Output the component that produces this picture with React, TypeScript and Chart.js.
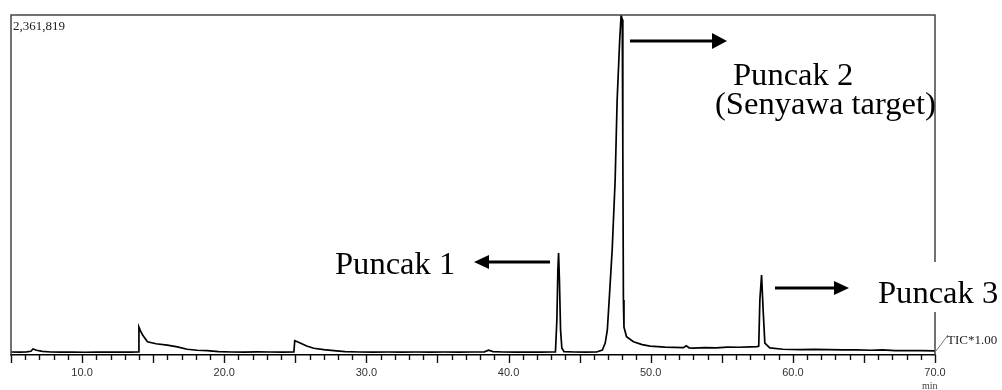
import React, { useEffect, useRef } from "react";
import { Chart, registerables } from "chart.js";

Chart.register(...registerables);

// Retention time (min) and TIC intensity
const retentionTime = [
  5.0, 5.6, 6.1, 6.4, 6.55, 6.8, 7.2, 7.8, 8.5, 9.3, 10.2, 11.0, 11.8, 12.6, 13.4, 13.95,
  14.0, 14.1, 14.26, 14.6, 15.2, 16.0, 16.7, 17.4, 18.1, 18.8, 19.6, 20.5, 21.4, 22.3, 23.2,
  24.1, 24.9, 24.96, 25.1, 25.38, 25.8, 26.3, 27.0, 27.7, 28.5, 29.5, 30.5, 31.5, 32.5, 33.5,
  34.5, 35.5, 36.5, 37.5, 38.3, 38.6, 38.9, 39.6, 40.5, 41.4, 42.3, 43.0, 43.3, 43.4, 43.47,
  43.52, 43.58, 43.66, 43.75, 43.9, 44.6, 45.4, 46.2, 46.6, 46.8, 46.95, 47.08, 47.29, 47.5,
  47.64, 47.82, 47.92, 48.0, 48.04, 48.08, 48.12, 48.3, 48.79, 49.4, 49.96, 51.0, 52.3, 52.5,
  52.7, 53.0, 53.8, 54.6, 55.4, 56.2, 57.0, 57.5, 57.6, 57.68, 57.8, 57.91, 58.03, 58.38,
  59.3, 60.5, 61.5, 62.5, 63.5, 64.5, 65.5, 66.3, 67.2, 68.2, 69.0, 70.0,
];
const intensity = [
  21000, 20000, 22000, 26000, 42000, 33000, 25000, 21000, 20000, 21000, 19000, 21000, 20000, 21000, 20000, 21000,
  194000, 170000, 139000, 92000, 78000, 69000, 56000, 40000, 33000, 30000, 24000, 21000, 20000, 22000, 21000,
  20000, 21000, 99000, 94000, 81000, 62000, 47000, 37000, 30000, 23000, 21000, 20000, 21000, 20000, 21000,
  20000, 21000, 20000, 21000, 22000, 34000, 24000, 21000, 20000, 21000, 20000, 21000, 22000, 243000, 590000,
  708000, 521000, 174000, 49000, 23000, 21000, 20000, 21000, 35000, 83000, 174000, 382000, 729000, 1216000,
  1771000, 2188000, 2361819, 2330000, 1424000, 382000, 194000, 127000, 92000, 72000, 62000, 55000, 51000, 64000,
  50000, 48000, 51000, 49000, 55000, 54000, 57000, 58000, 62000, 382000, 556000, 313000, 83000, 49000,
  40000, 38000, 39000, 37000, 36000, 36000, 33000, 35000, 31000, 30000, 31000, 29000,
];
const xTickValues = [10, 20, 30, 40, 50, 60, 70];
const xTickLabels = ["10.0", "20.0", "30.0", "40.0", "50.0", "60.0", "70.0"];
const xMin = 5;
const xMax = 70;
const yMaxLabel = "2,361,819";
const yMax = 2361819;

const serif = "'Liberation Serif', 'Times New Roman', serif";

export default function App() {
  const ref = useRef<HTMLCanvasElement>(null);

  useEffect(() => {
    if (!ref.current) return;
    const framePlugin = {
      id: "frameAndTicks",
      afterDraw(chart: any) {
        const { ctx, chartArea } = chart;
        const xs = chart.scales.x;
        ctx.save();
        ctx.strokeStyle = "#444";
        ctx.lineWidth = 1.5;
        ctx.beginPath();
        ctx.moveTo(chartArea.left, chartArea.bottom);
        ctx.lineTo(chartArea.left, chartArea.top);
        ctx.lineTo(chartArea.right, chartArea.top);
        ctx.lineTo(chartArea.right, chartArea.bottom);
        ctx.stroke();
        ctx.strokeStyle = "#111";
        ctx.lineWidth = 1.4;
        for (let t = xMin; t <= xMax; t += 1) {
          const px = Math.round(xs.getPixelForValue(t)) + 0.5;
          const len = t % 5 === 0 ? 8 : 5;
          ctx.beginPath();
          ctx.moveTo(px, chartArea.bottom);
          ctx.lineTo(px, chartArea.bottom + len);
          ctx.stroke();
        }
        ctx.restore();
      },
    };

    const chart = new Chart(ref.current, {
      type: "scatter",
      data: {
        datasets: [
          {
            data: retentionTime.map((x, i) => ({ x, y: intensity[i] })),
            showLine: true,
            borderColor: "#000",
            borderWidth: 1.7,
            pointRadius: 0,
            tension: 0,
          },
        ],
      },
      options: {
        animation: false,
        responsive: false,
        maintainAspectRatio: false,
        layout: { padding: { left: 11, top: 15, right: 67, bottom: 0 } },
        plugins: { legend: { display: false }, tooltip: { enabled: false } },
        scales: {
          x: {
            type: "linear",
            min: xMin,
            max: xMax,
            grid: { display: false, drawTicks: false },
            border: { display: true, color: "#000", width: 1.5 },
            afterFit: (s: any) => {
              s.height = 35;
            },
            afterBuildTicks: (s: any) => {
              s.ticks = xTickValues.map((v) => ({ value: v }));
            },
            ticks: {
              autoSkip: false,
              maxRotation: 0,
              padding: 11,
              color: "#333",
              font: { family: "'Liberation Sans', sans-serif", size: 11 },
              callback: (v: any) => {
                const i = xTickValues.indexOf(Number(v));
                return i >= 0 ? xTickLabels[i] : "";
              },
            },
          },
          y: { display: false, min: 0, max: yMax },
        },
      },
      plugins: [framePlugin],
    } as any);
    return () => chart.destroy();
  }, []);

  const big: React.CSSProperties = {
    position: "absolute",
    fontFamily: serif,
    fontSize: 31,
    lineHeight: "31px",
    whiteSpace: "nowrap",
    color: "#000",
    transform: "scaleX(1.05)",
    transformOrigin: "left top",
  };

  return (
    <div style={{ position: "absolute", left: 0, top: 0, width: 1002, height: 390, background: "#fff", overflow: "hidden" }}>
      <canvas ref={ref} width={1002} height={390} style={{ position: "absolute", left: 0, top: 0, width: 1002, height: 390 }} />
      <div style={{ position: "absolute", left: 13, top: 19, fontFamily: serif, fontSize: 13, lineHeight: "13px", color: "#222" }}>{yMaxLabel}</div>
      <svg width={1002} height={390} style={{ position: "absolute", left: 0, top: 0, pointerEvents: "none" }}>
        <line x1={550} y1={262} x2={486} y2={262} stroke="#000" strokeWidth={3} />
        <polygon points="474,262 489,255 489,269" fill="#000" />
        <line x1={630} y1={41} x2={714} y2={41} stroke="#000" strokeWidth={3} />
        <polygon points="727,41 712,33 712,49" fill="#000" />
        <line x1={775} y1={288} x2={836} y2={288} stroke="#000" strokeWidth={3} />
        <polygon points="849,288 834,281 834,295" fill="#000" />
        <line x1={936} y1={351} x2={948} y2={335} stroke="#777" strokeWidth={1} />
      </svg>
      <div style={{ ...big, left: 335, top: 248 }}>Puncak 1</div>
      <div style={{ ...big, left: 733, top: 59 }}>Puncak 2</div>
      <div style={{ ...big, left: 715, top: 88 }}>(Senyawa target)</div>
      <div style={{ position: "absolute", left: 866, top: 262, width: 136, height: 50, background: "#fff" }} />
      <div style={{ ...big, left: 878, top: 277 }}>Puncak 3</div>
      <div style={{ position: "absolute", left: 947, top: 333, fontFamily: serif, fontSize: 13, lineHeight: "13px", color: "#222", whiteSpace: "nowrap" }}>TIC*1.00</div>
      <div style={{ position: "absolute", left: 922, top: 381, fontFamily: serif, fontSize: 10, lineHeight: "10px", color: "#444" }}>min</div>
    </div>
  );
}
